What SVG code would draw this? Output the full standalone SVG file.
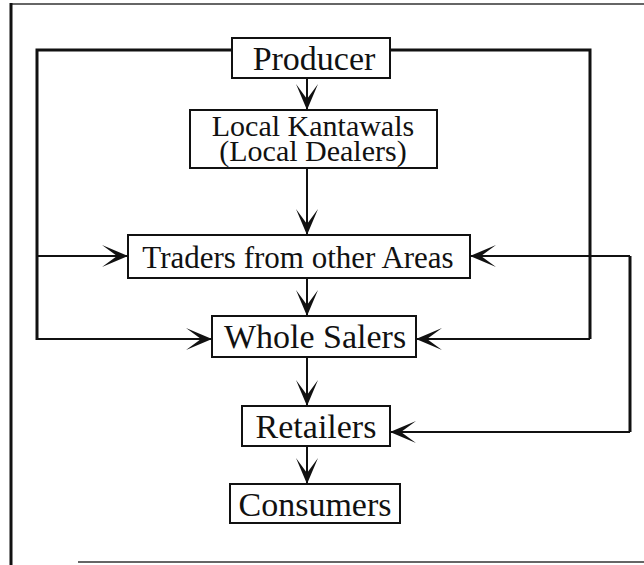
<svg xmlns="http://www.w3.org/2000/svg" width="644" height="565" viewBox="0 0 644 565">
<style>
.box{fill:#fff;stroke:#111;stroke-width:2}
.lbl{font-family:"Liberation Serif","Times New Roman",serif;font-size:34px;fill:#111;text-anchor:middle}
.ln{fill:none;stroke:#111;stroke-width:2}
.thick{fill:none;stroke:#111;stroke-width:3}
</style>
<defs>
<marker id="ah" markerUnits="userSpaceOnUse" markerWidth="30" markerHeight="26" viewBox="-28 -13 30 26" refX="0" refY="0" orient="auto">
<path d="M0,0 L-26,-11 L-11,0 L-26,11 Z" fill="#111"/>
</marker>
</defs>
<g id="frame">
<line x1="10" y1="4" x2="644" y2="4" stroke="#333" stroke-width="1.5"/>
<line x1="11" y1="3" x2="11" y2="565" stroke="#111" stroke-width="3"/>
<line x1="78" y1="562" x2="644" y2="562" stroke="#333" stroke-width="1.5"/>
</g>
<g id="connectors">
<polyline class="thick" points="232,50 37,50 37,340"/>
<line class="ln" x1="37" y1="256" x2="128" y2="256" marker-end="url(#ah)"/>
<line class="ln" x1="37" y1="339" x2="212" y2="339" marker-end="url(#ah)"/>
<polyline class="thick" points="390,50 590,50 590,339"/>
<line class="ln" x1="590" y1="339" x2="416" y2="339" marker-end="url(#ah)"/>
<polyline class="thick" points="630,432 630,256"/>
<line class="ln" x1="630" y1="256" x2="470" y2="256" marker-end="url(#ah)"/>
<line class="ln" x1="630" y1="432" x2="390" y2="432" marker-end="url(#ah)"/>
<line class="ln" x1="307" y1="78" x2="307" y2="110" marker-end="url(#ah)"/>
<line class="ln" x1="307" y1="168" x2="307" y2="235" marker-end="url(#ah)"/>
<line class="ln" x1="307" y1="278" x2="307" y2="316" marker-end="url(#ah)"/>
<line class="ln" x1="307" y1="357" x2="307" y2="406" marker-end="url(#ah)"/>
<line class="ln" x1="307" y1="446" x2="307" y2="484" marker-end="url(#ah)"/>
</g>
<g id="producer">
<rect class="box" x="232" y="38" width="158" height="40"/>
<text class="lbl" x="314" y="70">Producer</text>
</g>
<g id="local-kantawals">
<rect class="box" x="190" y="110" width="247" height="58"/>
<text class="lbl" style="font-size:30px"><tspan x="313" y="136">Local Kantawals</tspan><tspan x="313" y="161">(Local Dealers)</tspan></text>
</g>
<g id="traders">
<rect class="box" x="128" y="235" width="342" height="43"/>
<text class="lbl" x="298" y="268" style="font-size:31px">Traders from other Areas</text>
</g>
<g id="whole-salers">
<rect class="box" x="212" y="316" width="204" height="41"/>
<text class="lbl" x="315" y="348">Whole Salers</text>
</g>
<g id="retailers">
<rect class="box" x="242" y="406" width="148" height="40"/>
<text class="lbl" x="316" y="438">Retailers</text>
</g>
<g id="consumers">
<rect class="box" x="230" y="484" width="170" height="39"/>
<text class="lbl" x="315" y="516">Consumers</text>
</g>
</svg>
